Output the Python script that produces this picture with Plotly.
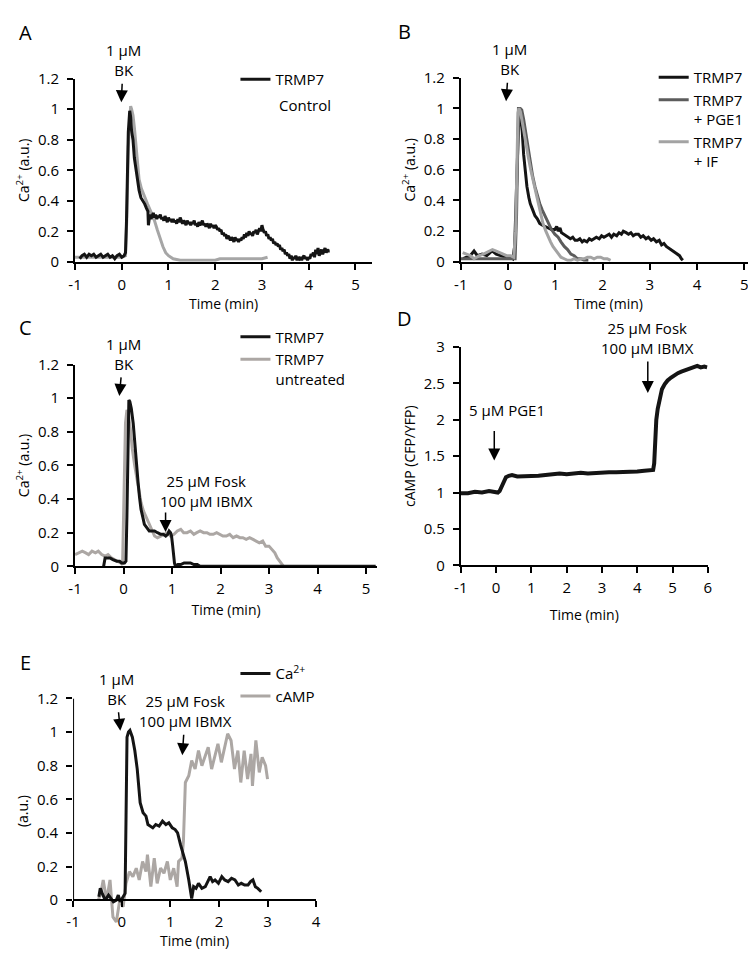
import plotly.graph_objects as go

W, H = 756, 955
FONT = "Open Sans"
BLACK = "#141414"

# ---------------- panel A ----------------
a_black_t = [-0.90, -0.85, -0.80, -0.75, -0.70, -0.65, -0.60, -0.55, -0.50, -0.45, -0.40, -0.35,
             -0.30, -0.25, -0.20, -0.15, -0.10, -0.05, 0.00, 0.05, 0.08, 0.10, 0.12, 0.14, 0.17,
             0.19, 0.21, 0.24, 0.27, 0.31, 0.34, 0.37, 0.41, 0.45, 0.49, 0.53, 0.56, 0.57, 0.585,
             0.600, 0.625, 0.650, 0.675, 0.700, 0.725, 0.750, 0.775, 0.800, 0.825,
             0.850, 0.875, 0.900, 0.925, 0.950, 0.975, 1.000, 1.025, 1.050, 1.075,
             1.100, 1.125, 1.150, 1.175, 1.200, 1.225, 1.250, 1.275, 1.300, 1.325,
             1.350, 1.375, 1.400, 1.425, 1.450, 1.475, 1.500, 1.525, 1.550, 1.575,
             1.600, 1.625, 1.650, 1.675, 1.700, 1.725, 1.750, 1.775, 1.800, 1.825,
             1.850, 1.875, 1.900, 1.925, 1.950, 1.975, 2.000, 2.025, 2.050, 2.075,
             2.100, 2.125, 2.150, 2.175, 2.200, 2.225, 2.250, 2.275, 2.300, 2.325,
             2.350, 2.375, 2.400, 2.425, 2.450, 2.475, 2.500, 2.525, 2.550, 2.575,
             2.600, 2.625, 2.650, 2.675, 2.700, 2.725, 2.750, 2.775, 2.800, 2.825,
             2.850, 2.875, 2.900, 2.925, 2.950, 2.975, 3.000, 3.025, 3.050, 3.075,
             3.100, 3.125, 3.150, 3.175, 3.200, 3.225, 3.250, 3.275, 3.300, 3.325,
             3.350, 3.375, 3.400, 3.425, 3.450, 3.475, 3.500, 3.525, 3.550, 3.575,
             3.600, 3.625, 3.650, 3.675, 3.700, 3.725, 3.750, 3.775, 3.800, 3.825,
             3.850, 3.875, 3.900, 3.925, 3.950, 3.975, 4.000, 4.025, 4.050, 4.075,
             4.100, 4.125, 4.150, 4.175, 4.200, 4.225, 4.250, 4.275, 4.300, 4.325,
             4.350, 4.375, 4.400, 4.425, 4.450]
a_black_v = [0.02, 0.04, 0.05, 0.03, 0.05, 0.04, 0.05, 0.03, 0.04, 0.05, 0.03, 0.04,
             0.05, 0.03, 0.04, 0.02, 0.04, 0.05, 0.03, 0.04, 0.06, 0.25, 0.60, 0.85, 0.99,
             0.95, 0.86, 0.80, 0.68, 0.60, 0.52, 0.47, 0.42, 0.40, 0.38, 0.35, 0.33, 0.24, 0.30,
             0.31, 0.28, 0.30, 0.32, 0.29, 0.31, 0.28, 0.30, 0.29, 0.31,
             0.28, 0.29, 0.27, 0.30, 0.28, 0.26, 0.29, 0.27, 0.28, 0.26,
             0.28, 0.26, 0.27, 0.25, 0.28, 0.26, 0.29, 0.27, 0.25, 0.27,
             0.26, 0.24, 0.27, 0.25, 0.26, 0.24, 0.26, 0.25, 0.27, 0.24,
             0.25, 0.23, 0.26, 0.24, 0.25, 0.27, 0.24, 0.25, 0.23, 0.25,
             0.24, 0.22, 0.25, 0.23, 0.24, 0.22, 0.24, 0.23, 0.21, 0.22,
             0.20, 0.21, 0.18, 0.19, 0.17, 0.18, 0.15, 0.17, 0.16, 0.14,
             0.16, 0.15, 0.13, 0.16, 0.14, 0.15, 0.13, 0.15, 0.14, 0.16,
             0.15, 0.18, 0.16, 0.19, 0.17, 0.20, 0.18, 0.19, 0.17, 0.20,
             0.19, 0.21, 0.18, 0.20, 0.22, 0.20, 0.24, 0.21, 0.19, 0.20,
             0.17, 0.18, 0.15, 0.16, 0.14, 0.15, 0.12, 0.13, 0.11, 0.12,
             0.10, 0.11, 0.08, 0.09, 0.07, 0.08, 0.05, 0.06, 0.04, 0.05,
             0.02, 0.04, 0.01, 0.03, 0.02, 0.04, 0.01, 0.03, 0.02, 0.03,
             0.01, 0.03, 0.04, 0.02, 0.03, 0.01, 0.03, 0.02, 0.05, 0.04,
             0.06, 0.03, 0.08, 0.05, 0.09, 0.04, 0.06, 0.08, 0.05, 0.07,
             0.09, 0.06, 0.08, 0.07, 0.07]
a_gray_t = [-1.0, -0.5, 0.0, 0.08, 0.11, 0.14, 0.17, 0.19, 0.21, 0.24, 0.27, 0.30, 0.33, 0.37,
            0.42, 0.48, 0.55, 0.62, 0.70, 0.76, 0.82, 0.88, 0.94, 1.00, 1.10, 1.25, 1.50, 2.00,
            2.10, 2.50, 3.00, 3.12]
a_gray_v = [0.03, 0.03, 0.03, 0.04, 0.30, 0.75, 0.98, 1.02, 1.00, 0.96, 0.88, 0.76, 0.64, 0.54,
            0.48, 0.43, 0.38, 0.33, 0.27, 0.21, 0.15, 0.10, 0.06, 0.04, 0.02, 0.01, 0.01, 0.01,
            0.02, 0.02, 0.02, 0.03]

# ---------------- panel B ----------------
b_black_t = [-0.95, -0.89, -0.80, -0.72, -0.65, -0.55, -0.45, -0.38, -0.33, -0.25, -0.15, -0.05,
             0.05, 0.10, 0.14, 0.18, 0.22, 0.26, 0.30, 0.33, 0.37, 0.40, 0.44, 0.47, 0.52, 0.57,
             0.62, 0.67, 0.72, 0.78, 0.85, 0.92, 0.99, 1.03, 1.06, 1.10, 1.13, 1.18, 1.22, 1.26,
             1.32, 1.37, 1.42, 1.47, 1.52, 1.57, 1.61, 1.67, 1.72, 1.77, 1.82, 1.87, 1.93, 1.98,
             2.03, 2.08, 2.14, 2.19, 2.24, 2.30, 2.35, 2.40, 2.44, 2.50, 2.55, 2.60, 2.65, 2.70,
             2.76, 2.81, 2.86, 2.92, 2.97, 3.03, 3.08, 3.14, 3.20, 3.25, 3.30, 3.35, 3.40, 3.45,
             3.49, 3.54, 3.58, 3.63, 3.67, 3.70]
b_black_v = [0.02, 0.03, 0.04, 0.07, 0.04, 0.05, 0.04, 0.06, 0.07, 0.05, 0.04, 0.03,
             0.03, 0.02, 0.10, 0.55, 0.88, 0.96, 0.85, 0.70, 0.58, 0.49, 0.42, 0.38, 0.34, 0.30,
             0.28, 0.25, 0.24, 0.23, 0.22, 0.21, 0.21, 0.23, 0.20, 0.22, 0.19, 0.18, 0.17, 0.16,
             0.15, 0.16, 0.14, 0.14, 0.15, 0.13, 0.14, 0.13, 0.15, 0.14, 0.15, 0.16, 0.15, 0.17,
             0.16, 0.17, 0.18, 0.16, 0.18, 0.17, 0.19, 0.18, 0.20, 0.19, 0.18, 0.19, 0.17, 0.18,
             0.18, 0.16, 0.17, 0.15, 0.16, 0.14, 0.15, 0.13, 0.14, 0.11, 0.12, 0.10, 0.09, 0.08,
             0.07, 0.06, 0.05, 0.04, 0.02, 0.01]
b_pge_t = [-1.0, -0.5, 0.0, 0.15, 0.18, 0.20, 0.22, 0.26, 0.29, 0.33, 0.36, 0.42, 0.47, 0.52,
           0.57, 0.62, 0.67, 0.72, 0.78, 0.85, 0.92, 0.99, 1.06, 1.12, 1.19, 1.26, 1.33, 1.40,
           1.47, 1.54, 1.61, 1.70]
b_pge_v = [0.02, 0.02, 0.02, 0.02, 0.30, 0.80, 1.00, 1.00, 0.99, 0.93, 0.87, 0.75, 0.64, 0.56,
           0.49, 0.43, 0.38, 0.34, 0.30, 0.25, 0.21, 0.18, 0.16, 0.13, 0.10, 0.08, 0.05, 0.04,
           0.02, 0.02, 0.01, 0.01]
b_if_t = [-0.96, -0.89, -0.80, -0.72, -0.61, -0.52, -0.45, -0.38, -0.33, -0.25, -0.18, -0.10,
          -0.03, 0.05, 0.12, 0.16, 0.19, 0.21, 0.23, 0.26, 0.29, 0.33, 0.38, 0.43, 0.48, 0.53,
          0.58, 0.64, 0.69, 0.74, 0.80, 0.85, 0.90, 0.95, 1.00, 1.06, 1.12, 1.19, 1.26, 1.33,
          1.40, 1.47, 1.54, 1.61, 1.68, 1.75, 1.82, 1.89, 1.96, 2.03, 2.10, 2.17]
b_if_v = [0.06, 0.05, 0.04, 0.02, 0.04, 0.05, 0.06, 0.07, 0.08, 0.07, 0.06, 0.05,
          0.04, 0.04, 0.03, 0.20, 0.70, 0.97, 1.00, 0.98, 0.93, 0.85, 0.76, 0.68, 0.60, 0.53,
          0.46, 0.38, 0.32, 0.25, 0.20, 0.16, 0.13, 0.10, 0.08, 0.05, 0.03, 0.02, 0.01, 0.01,
          0.02, 0.01, 0.02, 0.02, 0.03, 0.03, 0.02, 0.03, 0.03, 0.02, 0.02, 0.01]

# ---------------- panel C ----------------
c_black_t = [-0.41, -0.38, -0.33, -0.28, -0.22, -0.14, -0.08, -0.04, 0.02, 0.05, 0.07, 0.09,
             0.11, 0.13, 0.16, 0.20, 0.23, 0.27, 0.30, 0.33, 0.36, 0.40, 0.43, 0.48, 0.53, 0.58,
             0.64, 0.70, 0.77, 0.82, 0.87, 0.91, 0.94, 0.97, 0.99, 1.01, 1.03, 1.05, 1.07, 1.12,
             1.18, 1.25, 1.32, 1.38, 1.45, 1.52, 1.58, 2.0, 3.0, 4.0, 5.2]
c_black_v = [0.00, 0.05, 0.05, 0.05, 0.04, 0.03, 0.03, 0.02, 0.02, 0.03, 0.30, 0.80,
             0.99, 0.98, 0.94, 0.85, 0.73, 0.60, 0.50, 0.41, 0.34, 0.29, 0.25, 0.23, 0.21, 0.21,
             0.21, 0.20, 0.19, 0.19, 0.18, 0.19, 0.21, 0.20, 0.18, 0.13, 0.07, 0.02, 0.00, 0.01,
             0.01, 0.02, 0.02, 0.02, 0.01, 0.01, 0.00, 0.00, 0.00, 0.00, 0.00]
c_gray_t = [-1.0, -0.93, -0.85, -0.78, -0.72, -0.65, -0.58, -0.52, -0.45, -0.38, -0.32, -0.25,
            -0.18, -0.12, -0.06, -0.02, 0.01, 0.04, 0.07, 0.10, 0.14, 0.18, 0.23, 0.28, 0.33,
            0.36, 0.41, 0.47, 0.52, 0.57, 0.64, 0.70, 0.77, 0.84, 0.91, 0.97, 1.04, 1.11, 1.18,
            1.24, 1.31, 1.38, 1.45, 1.51, 1.58, 1.65, 1.72, 1.78, 1.85, 1.92, 1.99, 2.05, 2.12,
            2.19, 2.26, 2.33, 2.40, 2.46, 2.53, 2.60, 2.67, 2.74, 2.80, 2.87, 2.93, 3.00, 3.07,
            3.12, 3.17, 3.22, 3.27, 3.30]
c_gray_v = [0.07, 0.08, 0.09, 0.08, 0.07, 0.09, 0.08, 0.09, 0.07, 0.06, 0.07, 0.05,
            0.04, 0.03, 0.02, 0.01, 0.40, 0.85, 0.93, 0.90, 0.82, 0.70, 0.60, 0.52, 0.44,
            0.38, 0.33, 0.29, 0.25, 0.22, 0.18, 0.17, 0.18, 0.19, 0.20, 0.18, 0.19, 0.21, 0.22,
            0.20, 0.20, 0.21, 0.19, 0.20, 0.21, 0.20, 0.20, 0.19, 0.19, 0.20, 0.19, 0.18, 0.18,
            0.19, 0.17, 0.18, 0.17, 0.17, 0.16, 0.17, 0.16, 0.15, 0.14, 0.15, 0.12, 0.12, 0.10,
            0.08, 0.05, 0.03, 0.01, 0.00]

# ---------------- panel D ----------------
d_t = [-1.0, -0.8, -0.6, -0.4, -0.2, 0.0, 0.05, 0.10, 0.13, 0.18, 0.22, 0.28, 0.36, 0.45,
       0.6, 0.8, 1.0, 1.2, 1.4, 1.6, 1.8, 2.0, 2.2, 2.4, 2.6, 2.8, 3.0, 3.2, 3.4, 3.6, 3.8,
       4.0, 4.2, 4.35, 4.45, 4.48, 4.50, 4.52, 4.54, 4.58, 4.64, 4.70, 4.78, 4.86, 4.96, 5.05,
       5.15, 5.25, 5.35, 5.43, 5.52, 5.60, 5.70, 5.80, 5.90, 5.98]
d_v = [0.99, 0.99, 1.01, 1.00, 1.02, 1.01, 1.00, 1.02, 1.05, 1.12, 1.17, 1.21, 1.23, 1.24,
       1.22, 1.22, 1.23, 1.23, 1.24, 1.25, 1.26, 1.25, 1.26, 1.27, 1.26, 1.27, 1.27, 1.28,
       1.28, 1.28, 1.29, 1.29, 1.30, 1.30, 1.31, 1.40, 1.60, 1.85, 2.00, 2.15, 2.31, 2.42,
       2.49, 2.54, 2.58, 2.61, 2.64, 2.66, 2.68, 2.70, 2.71, 2.73, 2.74, 2.72, 2.73, 2.72]

# ---------------- panel E ----------------
e_ca_t = [-0.47, -0.44, -0.40, -0.34, -0.27, -0.17, -0.11, -0.07, -0.03, 0.02, 0.07, 0.09,
          0.11, 0.14, 0.17, 0.22, 0.27, 0.32, 0.36, 0.38, 0.44, 0.50, 0.54, 0.59, 0.64, 0.70,
          0.77, 0.84, 0.91, 0.97, 1.04, 1.10, 1.15, 1.21, 1.26, 1.31, 1.38, 1.44, 1.48, 1.53,
          1.58, 1.65, 1.72, 1.77, 1.82, 1.87, 1.92, 1.99, 2.06, 2.12, 2.19, 2.26, 2.33, 2.40,
          2.46, 2.53, 2.60, 2.65, 2.70, 2.75, 2.80, 2.87]
e_ca_v = [0.02, 0.07, 0.04, 0.00, 0.03, -0.01, 0.00, 0.03, -0.01, 0.02, 0.04, 0.50,
          0.97, 1.00, 1.01, 0.97, 0.89, 0.78, 0.66, 0.58, 0.52, 0.50, 0.45, 0.44, 0.43, 0.45,
          0.44, 0.47, 0.45, 0.46, 0.43, 0.42, 0.40, 0.33, 0.28, 0.23, 0.12, 0.01, 0.08, 0.07,
          0.10, 0.07, 0.08, 0.11, 0.14, 0.11, 0.12, 0.10, 0.14, 0.12, 0.11, 0.13, 0.12, 0.09,
          0.10, 0.09, 0.09, 0.11, 0.12, 0.08, 0.07, 0.05]
e_camp_t = [-0.48, -0.43, -0.38, -0.31, -0.24, -0.18, -0.11, -0.04, 0.03, 0.09, 0.16, 0.23,
            0.30, 0.36, 0.43, 0.50, 0.53, 0.60, 0.67, 0.73, 0.80, 0.87, 0.94, 1.00, 1.07,
            1.14, 1.17, 1.24, 1.27, 1.31, 1.38, 1.44, 1.51, 1.58, 1.65, 1.71, 1.78, 1.85, 1.92,
            1.98, 2.05, 2.12, 2.18, 2.25, 2.32, 2.39, 2.45, 2.52, 2.59, 2.66, 2.69, 2.76, 2.83,
            2.89, 2.96, 3.00]
e_camp_v = [0.00, 0.04, 0.12, 0.00, 0.12, -0.10, -0.13, 0.00, -0.04, 0.10, 0.17, 0.14,
            0.19, 0.12, 0.23, 0.17, 0.27, 0.08, 0.25, 0.10, 0.19, 0.16, 0.23, 0.12, 0.19,
            0.08, 0.23, 0.25, 0.35, 0.70, 0.74, 0.83, 0.78, 0.89, 0.80, 0.85, 0.91, 0.78, 0.87,
            0.93, 0.82, 0.91, 0.99, 0.95, 0.78, 0.89, 0.70, 0.89, 0.72, 0.87, 0.68, 0.95, 0.76,
            0.85, 0.80, 0.72]

ca_ticks = [0, 0.2, 0.4, 0.6, 0.8, 1, 1.2]
ca_text = ["0", "0.2", "0.4", "0.6", "0.8", "1", "1.2"]
camp_ticks = [0, 0.5, 1, 1.5, 2, 2.5, 3]
camp_text = ["0", "0.5", "1", "1.5", "2", "2.5", "3"]
time_ticks = [-1, 0, 1, 2, 3, 4, 5, 6]
time_text = ["-1", "0", "1", "2", "3", "4", "5", "6"]


def fx(p):
    return p / W


def fy(p):
    return 1 - p / H


axis_style = dict(showline=True, linecolor="black", linewidth=2, ticks="outside", ticklen=6,
                  tickwidth=2, tickcolor="black", showgrid=False, zeroline=False,
                  tickfont=dict(family=FONT, size=15, color="black"))
title_font = dict(family=FONT, size=14, color="black")


def xaxis(dom, rng, n, standoff, **kw):
    return dict(axis_style, domain=[fx(dom[0]), fx(dom[1])], range=rng,
                tickvals=time_ticks[:n], ticktext=time_text[:n], ticklabelstandoff=2,
                title=dict(text="Time (min)", font=title_font, standoff=standoff), **kw)


def yaxis(dom, rng, title, ticks, labels, **kw):
    return dict(axis_style, domain=[fy(dom[0]), fy(dom[1])], range=rng,
                tickvals=ticks, ticktext=labels, ticklabelstandoff=5,
                title=dict(text=title, font=title_font, standoff=5), **kw)


fig = go.Figure()


def line(x, y, color, width, ax, name=None, legend=None, group=None):
    fig.add_trace(go.Scatter(
        x=x, y=y, mode="lines", line=dict(color=color, width=width),
        xaxis="x" + ax, yaxis="y" + ax, name=name,
        showlegend=name is not None, legend=legend, legendgroup=group))


line(a_gray_t, a_gray_v, "#a6a6a6", 3, "")
line(a_black_t, a_black_v, BLACK, 3, "", "TRMP7", "legend", "a1")

line(b_black_t, b_black_v, BLACK, 3, "2", "TRMP7", "legend2", "b1")
line(b_pge_t, b_pge_v, "#5c5c5c", 3, "2", "TRMP7<br>+ PGE1", "legend2", "b2")
line(b_if_t, b_if_v, "#a3a3a3", 3, "2", "TRMP7<br>+ IF", "legend2", "b3")

line(c_gray_t, c_gray_v, "#aca7a4", 3, "3", "TRMP7<br>untreated", "legend3", "c2")
line(c_black_t, c_black_v, BLACK, 3, "3", "TRMP7", "legend3", "c1")

line(d_t, d_v, BLACK, 4, "4")

line(e_camp_t, e_camp_v, "#aca7a4", 3, "5", "cAMP", "legend4", "e2")
line(e_ca_t, e_ca_v, BLACK, 3, "5", "Ca<sup>2+</sup>", "legend4", "e1")

ca_title = "Ca<sup>2+</sup> (a.u.)"
layout = dict(
    width=W, height=H, margin=dict(l=0, r=0, t=0, b=0),
    paper_bgcolor="white", plot_bgcolor="white",
    font=dict(family=FONT, color="black"),
    xaxis=xaxis((61, 363), [-1, 5.36], 7, 6, anchor="y"),
    yaxis=yaxis((248, 61), [0, 1.2], ca_title, ca_ticks, ca_text, anchor="x"),
    xaxis2=xaxis((453, 753), [-1, 5.25], 7, 6, anchor="y2"),
    yaxis2=yaxis((248, 60), [0, 1.2], ca_title, ca_ticks, ca_text, anchor="x2"),
    xaxis3=xaxis((61, 368), [-1, 5.23], 7, 8, anchor="y3"),
    yaxis3=yaxis((559, 353), [0, 1.2], ca_title, ca_ticks, ca_text, anchor="x3"),
    xaxis4=xaxis((453, 704), [-1, 6], 8, 14, anchor="y4"),
    yaxis4=yaxis((558, 335), [0, 3], "cAMP (CFP/YFP)", camp_ticks, camp_text, anchor="x4"),
    xaxis5=xaxis((59, 306), [-1, 4], 6, 0, anchor="free", position=fy(900)),
    yaxis5=yaxis((924, 694), [-0.14, 1.2], "(a.u.)", ca_ticks, ca_text, anchor="x5",
                 showline=False),
)

leg = dict(font=dict(family=FONT, size=15, color="black"), bgcolor="rgba(0,0,0,0)",
           xanchor="left", yanchor="top", valign="top", tracegroupgap=10,
           itemwidth=30, traceorder="normal")
layout["legend"] = dict(leg, x=fx(224), y=fy(45))
layout["legend2"] = dict(leg, x=fx(649), y=fy(43))
layout["legend3"] = dict(leg, x=fx(224), y=fy(308), traceorder="reversed")
layout["legend4"] = dict(leg, x=fx(224), y=fy(652), traceorder="reversed", tracegroupgap=4)
fig.update_layout(**layout)

# y axis line of panel E only spans 0..1.2
fig.add_shape(type="line", xref="x5", yref="y5", x0=-1, x1=-1, y0=0, y1=1.2,
              line=dict(color="black", width=2))


def text(px, py, s, size=15, xanchor="center"):
    fig.add_annotation(x=fx(px), y=fy(py), xref="paper", yref="paper", text=s,
                       showarrow=False, xanchor=xanchor, yanchor="middle",
                       font=dict(family=FONT, size=size, color="black"))


def label_arrow(px, tip, s, dx, dy):
    # text sits dx, dy pixels away from the arrow tip; arrow runs from the text down to the tip
    fig.add_annotation(x=fx(px), y=fy(tip), xref="paper", yref="paper", text=s,
                       showarrow=True, ax=dx, ay=dy, arrowhead=2, arrowsize=1.6,
                       arrowwidth=1.5, arrowcolor="black", standoff=0, startstandoff=2,
                       font=dict(family=FONT, size=15, color="black"))


def arrow(px, tail, tip):
    fig.add_annotation(x=fx(px), y=fy(tip), xref="paper", yref="paper", text="",
                       showarrow=True, ax=0, ay=tail - tip, arrowhead=2, arrowsize=1.6,
                       arrowwidth=1.5, arrowcolor="black")


# panel letters
text(11, 14, "A", 20)
text(396, 13, "B", 20)
text(11, 315, "C", 20)
text(396, 306, "D", 20)
text(11, 657, "E", 20)

# A
label_arrow(108, 85, "1 µM<br>BK", 2, -42)
text(266, 88, "Control", xanchor="left")
# B
label_arrow(499, 84, "1 µM<br>BK", 3, -42)
# C
label_arrow(106, 385, "1 µM<br>BK", 4, -42)
text(195, 482, "25 µM Fosk<br>100 µM IBMX")
arrow(153, 503, 524)
# D
label_arrow(643, 382, "25 µM Fosk<br>100 µM IBMX", 0, -55)
text(500, 399, "5 µM PGE1")
arrow(487, 420, 451)
# E
label_arrow(107, 727, "1 µM<br>BK", -4, -42)
label_arrow(170, 752, "25 µM Fosk<br>100 µM IBMX", 3, -44)

fig.write_html("out.html")
